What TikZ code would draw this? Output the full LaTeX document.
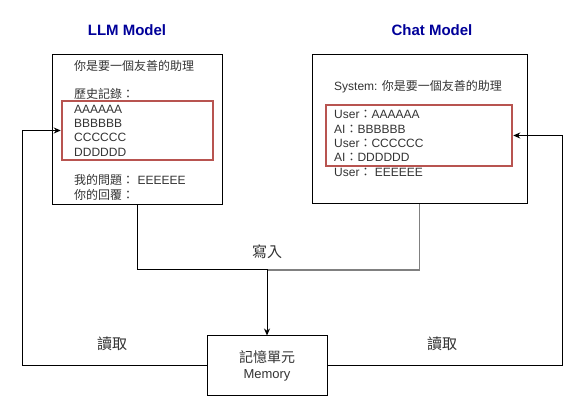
\documentclass[tikz,border=0pt]{standalone}
\usepackage{fontspec}
\setmainfont{Liberation Sans}
\newfontfamily\cjk{Noto Sans CJK TC}
\usetikzlibrary{arrows.meta}
\definecolor{titleblue}{HTML}{000099}
\definecolor{hired}{HTML}{B85450}
\definecolor{edgegray}{HTML}{808080}
\begin{document}
\begin{tikzpicture}[x=1pt,y=-1pt,
  box/.style={draw=black,line width=1pt,rectangle,inner sep=0pt},
  redbox/.style={draw=hired,line width=2.5pt,rectangle,inner sep=0pt},
  txt/.style={inner sep=0pt,font=\fontsize{12}{14.3}\selectfont,text=black!80},
  title/.style={inner sep=0pt,font=\fontsize{15}{18}\selectfont\bfseries,text=titleblue},
  lbl/.style={inner sep=0pt,font=\fontsize{15}{18}\selectfont\cjk,text=black!80},
  arr/.style={draw=black,line width=1pt,-{Stealth[length=7pt,width=6pt]}},
  plain/.style={draw=black,line width=1pt}]
\useasboundingbox (0,0) rectangle (586,411);
% boxes
\node[box,minimum width=170pt,minimum height=150pt] (llm) at (137,130) {};
\node[box,minimum width=215pt,minimum height=149pt] (chat) at (419.5,129.5) {};
\node[redbox,minimum width=151pt,minimum height=59pt] (red1) at (137.5,130.5) {};
\node[redbox,minimum width=186pt,minimum height=61pt] (red2) at (419,135.5) {};
\node[box,minimum width=120pt,minimum height=59pt,align=center,
      font=\fontsize{13}{16}\selectfont,text=black!80] (mem) at (267,365.5)
      {{\cjk\fontsize{14}{16}\selectfont 記憶單元}\\Memory};
% titles
\node[title] (t1) at (127,30) {LLM Model};
\node[title] (t2) at (432,30) {Chat Model};
% LLM text
\foreach \k/\t in {0/{{\cjk 你是要一個友善的助理}},2/{{\cjk 歷史記錄：}},3/{AAAAAA},4/{BBBBBB},5/{CCCCCC},6/{DDDDDD},8/{{\cjk 我的問題：}\ EEEEEE},9/{{\cjk 你的回覆：}}}
  \node[txt,anchor=base west] (a\k) at (74,{70.4+\k*14.3}) {\t};
% Chat text
\foreach \k/\t in {0/{System: {\cjk 你是要一個友善的助理}},2/{User{\cjk ：}AAAAAA},3/{AI{\cjk ：}BBBBBB},4/{User{\cjk ：}CCCCCC},5/{AI{\cjk ：}DDDDDD},6/{User{\cjk ：}\ EEEEEE}}
  \node[txt,anchor=base west] (b\k) at (334,{90.4+\k*14.3}) {\t};
% labels
\node[lbl] (w) at (267,252) {寫入};
\node[lbl] (r1) at (112,344) {讀取};
\node[lbl] (r2) at (442,344) {讀取};
% connectors
\coordinate (j) at (267,270);
\coordinate (L) at (22,0);
\coordinate (R) at (562,0);
\draw[draw=edgegray,line width=1.6pt] (chat.south) |- (j);
\draw[arr] (llm.south) |- (j) -- (mem.north);
\draw[arr] (mem.west) -| (L |- red1.west) -- (red1.west);
\draw[arr] (mem.east) -| (R |- red2.east) -- (red2.east);
\end{tikzpicture}
\end{document}
